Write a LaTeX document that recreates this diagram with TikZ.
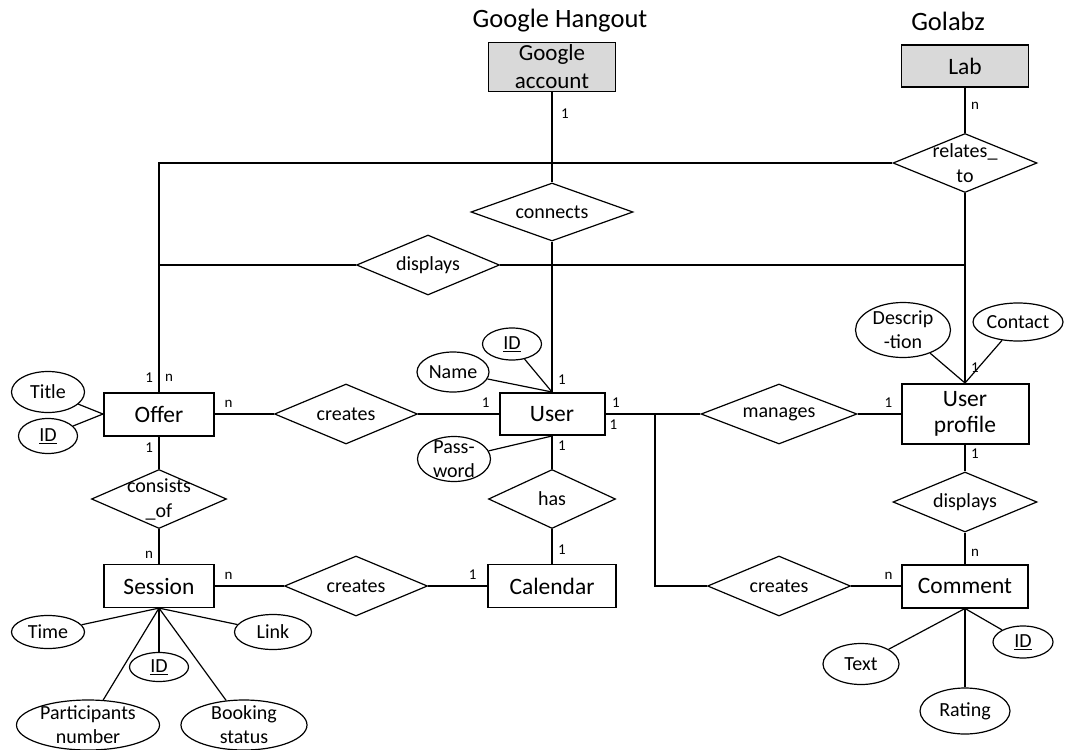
\documentclass[tikz,border=0pt]{standalone}
\usepackage{fontspec}
\setmainfont{Carlito}
\usetikzlibrary{shapes.geometric,positioning}

\tikzset{
  entity/.style={draw, rectangle, line width=2pt, inner sep=0pt, minimum height=43pt,
    align=center, font=\fontsize{23.5}{26}\selectfont},
  weak/.style={entity, line width=1.2pt},
  outside/.style={entity, line width=1.4pt, fill=black!15},
  relation/.style={draw, diamond, aspect=2.4, line width=1.2pt, inner sep=0pt,
    minimum width=143pt, minimum height=60pt, align=center, font=\fontsize{20}{25}\selectfont},
  attr/.style={draw, ellipse, line width=1.2pt, inner sep=-3pt, align=center,
    font=\fontsize{20}{24}\selectfont},
  card/.style={inner sep=5.5pt, font=\fontsize{15}{15}\selectfont},
  conn/.style={line width=1.2pt},
  heading/.style={font=\fontsize{26.5}{30}\selectfont}
}

\begin{document}
\begin{tikzpicture}[x=1pt, y=-1pt, on grid]
  \useasboundingbox (0,0) rectangle (1067,749);

  \node (offer)    [entity, minimum width=110pt] at (159,414) {Offer};
  \node (user)     [entity, minimum width=105pt, minimum height=42pt, right=393pt of offer] {User};
  \node (profile)  [entity, minimum width=127pt, minimum height=60pt, right=413pt of user] {User\\profile};
  \node (session)  [weak, minimum width=110pt, below=172pt of offer] {Session};
  \node (calendar) [weak, minimum width=128pt, right=393pt of session] {Calendar};
  \node (comment)  [entity, minimum width=126pt, below=172pt of profile] {Comment};
  \node (gacc)     [outside, minimum width=127pt, minimum height=49pt, above=347pt of user,
                    font=\fontsize{23}{28}\selectfont] {Google\\account};
  \node (lab)      [outside, minimum width=127pt, minimum height=42pt, above=348pt of profile] {Lab};
  \node (hangout)  [heading, above right=46pt and 8pt of gacc] {Google Hangout};
  \node (golabz)   [heading, above left=45pt and 17pt of lab] {Golabz};

  \node (relto)     [relation, minimum width=144pt, minimum height=59pt, inner sep=-14pt,
                     below=97pt of lab] {relates\_\\to};
  \node (connects)  [relation, minimum width=162pt, minimum height=58pt, below=145pt of gacc] {connects};
  \node (dispTop)   [relation, above right=149pt and 269pt of offer] {displays};
  \node (createsOU) [relation, right=187pt of offer] {creates};
  \node (consists)  [relation, minimum width=135pt, minimum height=59pt, inner sep=-14pt,
                     below=85pt of offer] {consists\\\_of};
  \node (has)       [relation, minimum width=127pt, minimum height=59pt, below=85pt of user] {has};
  \node (createsSC) [relation, right=197pt of session] {creates};
  \node (manages)   [relation, minimum width=156pt, right=227pt of user] {manages};
  \node (createsC)  [relation, left=186pt of comment] {creates};
  \node (dispPC)    [relation, minimum width=144pt, below=88pt of profile] {displays};
  \coordinate (split) at (655,414);

  \node (title)        [attr, minimum width=73pt, minimum height=41pt, above left=22pt and 111pt of offer] {Title};
  \node (idOffer)      [attr, minimum width=59pt, minimum height=35pt, below left=22pt and 111pt of offer] {\underline{ID}};
  \node (name)         [attr, minimum width=72pt, minimum height=40pt, above left=42pt and 99pt of user] {Name};
  \node (idUser)       [attr, minimum width=59pt, minimum height=32pt, above left=70pt and 40pt of user] {\underline{ID}};
  \node (password)     [attr, minimum width=73pt, minimum height=45pt, below left=45pt and 98pt of user] {Pass-\\word};
  \node (descr)        [attr, minimum width=95pt, minimum height=55pt, above left=84pt and 62pt of profile] {Descrip\\-tion};
  \node (contact)      [attr, minimum width=90pt, minimum height=38pt, above right=92pt and 53pt of profile] {Contact};
  \node (time)         [attr, minimum width=73pt, minimum height=33pt, below left=46pt and 111pt of session] {Time};
  \node (link)         [attr, minimum width=77pt, minimum height=35pt, below right=46pt and 114pt of session] {Link};
  \node (idSession)    [attr, minimum width=59pt, minimum height=29pt, below=81pt of session] {\underline{ID}};
  \node (participants) [attr, minimum width=143pt, minimum height=50pt, below left=139pt and 71pt of session] {Participants\\number};
  \node (booking)      [attr, minimum width=126pt, minimum height=50pt, below right=139pt and 85pt of session] {Booking\\status};
  \node (text)         [attr, minimum width=76pt, minimum height=41pt, below left=78pt and 104pt of comment] {Text};
  \node (rating)       [attr, minimum width=90pt, minimum height=46pt, below=125pt of comment] {Rating};
  \node (idComment)    [attr, minimum width=60pt, minimum height=32pt, below right=56pt and 58pt of comment] {\underline{ID}};

  \path[conn]
    (gacc) edge node[card, pos=.24, right=3pt] {1} (connects)
    (connects) edge node[card, pos=.92, right] {1} (user)
    (lab) edge node[card, pos=.41, right] {n} (relto)
    (relto) edge node[card, pos=.92, right] {1} (profile)
    (offer) edge node[card, pos=.23, above] {n} (createsOU)
    (createsOU) edge node[card, pos=.84, above] {1} (user)
    (user) edge node[card, pos=.11, above] {1} (manages)
    (manages) edge node[card, pos=.72, above] {1} (profile)
    (createsC) edge node[card, pos=.75, above] {n} (comment)
    (profile) edge node[card, pos=.32, right] {1} (dispPC)
    (dispPC) edge node[card, pos=.65, right] {n} (comment)
    (offer) edge node[card, pos=.34, left] {1} (consists)
    (consists) edge node[card, pos=.74, left] {n} (session)
    (session) edge node[card, pos=.2, above] {n} (createsSC)
    (createsSC) edge node[card, pos=.75, above] {1} (calendar)
    (user) edge node[card, pos=.29, right] {1} (has)
    (has) edge node[card, pos=.6, right] {1} (calendar);

  \draw[conn] (relto) -| node[card, pos=.97, left] {1} (offer);
  \draw[conn] (dispTop) -| node[card, pos=.945, right] {n} (offer);
  \draw[conn] (dispTop) -| (profile);
  \draw[conn] (user) -- node[card, pos=.16, below] {1} (split) |- (createsC);

  \path[conn]
    (title) edge (offer.west)
    (idOffer) edge (offer.west)
    (name) edge (user.north)
    (idUser) edge (user.north)
    (password) edge (user.south)
    (descr) edge (profile.north)
    (contact) edge (profile.north)
    (time) edge (session.south)
    (link) edge (session.south)
    (idSession) edge (session.south)
    (participants) edge (session.south)
    (booking) edge (session.south)
    (text) edge (comment.south)
    (rating) edge (comment.south)
    (idComment) edge (comment.south);
\end{tikzpicture}
\end{document}
